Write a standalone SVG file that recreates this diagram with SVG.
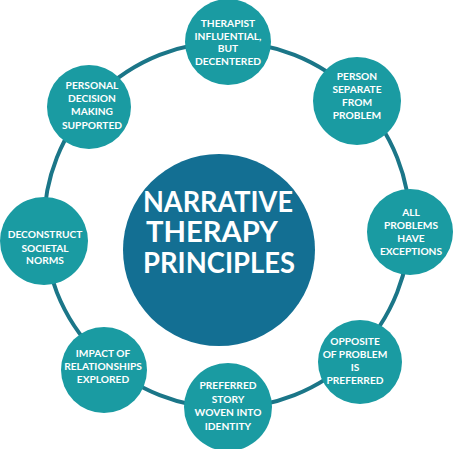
<svg xmlns="http://www.w3.org/2000/svg" width="455" height="449" viewBox="0 0 455 449">
<style>
.node{fill:#1a9ba2}
.ring{fill:none;stroke:#1b7688;stroke-width:4}
.t{font-family:Lato,"Open Sans",sans-serif;font-weight:bold;font-size:10.2px;fill:#fff;text-anchor:middle}
.big{font-family:Lato,"Open Sans",sans-serif;font-weight:bold;font-size:29px;fill:#fff;text-anchor:middle}
</style>
<rect width="455" height="449" fill="#fff"/>
<g id="connectors">
<circle class="ring" cx="227" cy="225" r="183"/>
</g>
<g id="center">
<circle cx="219" cy="250" r="96" fill="#136f93"/>
<text class="big" x="218" y="212" textLength="150" lengthAdjust="spacingAndGlyphs">NARRATIVE</text>
<text class="big" x="212" y="242" textLength="132" lengthAdjust="spacingAndGlyphs">THERAPY</text>
<text class="big" x="219" y="273" textLength="152" lengthAdjust="spacingAndGlyphs">PRINCIPLES</text>
</g>
<g id="n1">
<circle class="node" cx="228" cy="42" r="43"/>
<text class="t" x="228" y="27">THERAPIST</text>
<text class="t" x="228" y="40">INFLUENTIAL,</text>
<text class="t" x="228" y="52">BUT</text>
<text class="t" x="228" y="65">DECENTERED</text>
</g>
<g id="n2">
<circle class="node" cx="357" cy="101" r="44"/>
<text class="t" x="357" y="80">PERSON</text>
<text class="t" x="357" y="93">SEPARATE</text>
<text class="t" x="357" y="106">FROM</text>
<text class="t" x="357" y="119">PROBLEM</text>
</g>
<g id="n3">
<circle class="node" cx="410" cy="232" r="43"/>
<text class="t" x="411" y="216">ALL</text>
<text class="t" x="411" y="229">PROBLEMS</text>
<text class="t" x="411" y="242">HAVE</text>
<text class="t" x="411" y="255">EXCEPTIONS</text>
</g>
<g id="n4">
<circle class="node" cx="360" cy="362" r="42"/>
<text class="t" x="355" y="345">OPPOSITE</text>
<text class="t" x="355" y="358">OF PROBLEM</text>
<text class="t" x="355" y="371">IS</text>
<text class="t" x="355" y="384">PREFERRED</text>
</g>
<g id="n5">
<circle class="node" cx="228" cy="407" r="44"/>
<text class="t" x="228" y="389">PREFERRED</text>
<text class="t" x="228" y="403">STORY</text>
<text class="t" x="228" y="416">WOVEN INTO</text>
<text class="t" x="228" y="430">IDENTITY</text>
</g>
<g id="n6">
<circle class="node" cx="104" cy="370" r="43"/>
<text class="t" x="103" y="357">IMPACT OF</text>
<text class="t" x="103" y="370">RELATIONSHIPS</text>
<text class="t" x="103" y="383">EXPLORED</text>
</g>
<g id="n7">
<circle class="node" cx="44" cy="241" r="44"/>
<text class="t" x="45" y="238">DECONSTRUCT</text>
<text class="t" x="45" y="252">SOCIETAL</text>
<text class="t" x="45" y="264">NORMS</text>
</g>
<g id="n8">
<circle class="node" cx="89" cy="107" r="42"/>
<text class="t" x="92" y="89">PERSONAL</text>
<text class="t" x="92" y="102">DECISION</text>
<text class="t" x="92" y="115">MAKING</text>
<text class="t" x="92" y="129">SUPPORTED</text>
</g>
</svg>
